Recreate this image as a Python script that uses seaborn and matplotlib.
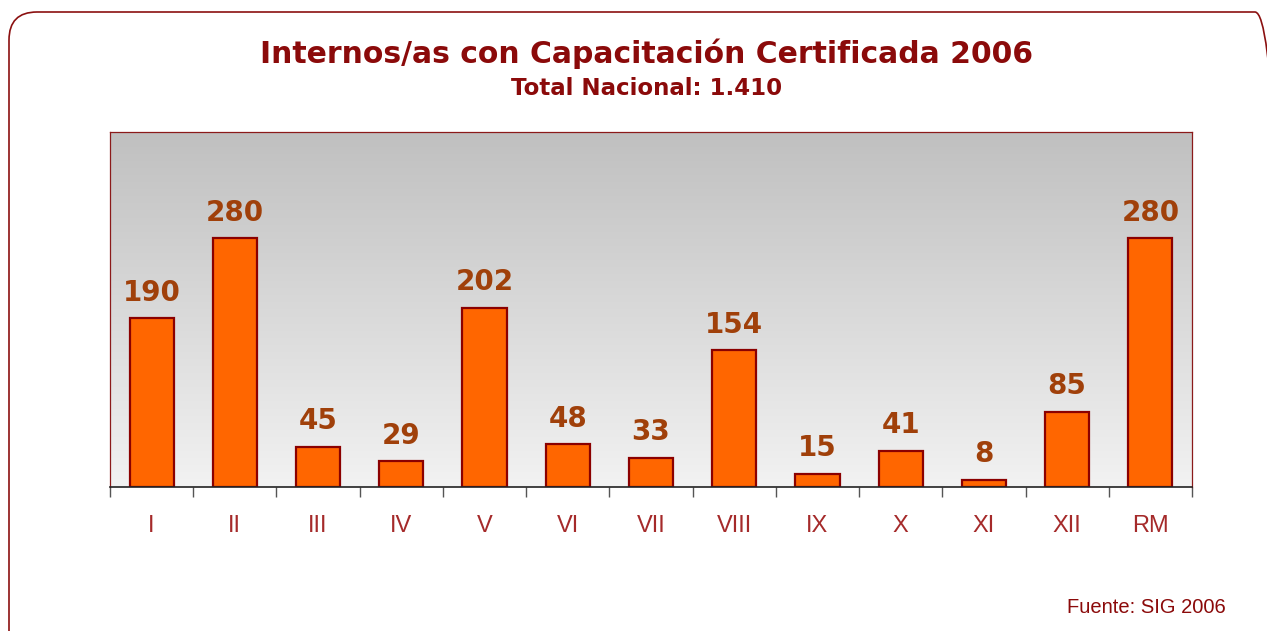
import numpy as np
import pandas as pd
import matplotlib
matplotlib.use("Agg")
import matplotlib.pyplot as plt
from matplotlib.patches import FancyBboxPatch
from matplotlib.transforms import IdentityTransform
from matplotlib.colors import LinearSegmentedColormap
import seaborn as sns

# data
regiones = ["I", "II", "III", "IV", "V", "VI", "VII", "VIII", "IX", "X", "XI", "XII", "RM"]
internos = [190, 280, 45, 29, 202, 48, 33, 154, 15, 41, 8, 85, 280]

df = pd.DataFrame({"region": regiones, "internos": internos})

sns.set_style("white")
plt.rcParams["font.family"] = ["DejaVu Sans"]

W, H = 1267, 631
fig = plt.figure(figsize=(W / 100, H / 100), dpi=100)
ax = fig.add_axes([110 / W, 1 - 487 / H, (1192 - 110) / W, (487 - 132) / H])

# rounded outer frame, drawn in pixel coords
frame = FancyBboxPatch((9, -60), 1274, H - 12 + 60,
                       boxstyle="round,pad=0,rounding_size=28",
                       transform=IdentityTransform(), facecolor="none",
                       edgecolor="#8B1010", linewidth=1.2, zorder=0)
fig.patches.append(frame)

# gradient background (grey on top -> almost white at bottom)
grad = np.linspace(0, 1, 256).reshape(-1, 1)
cmap = LinearSegmentedColormap.from_list("bg", ["#C0C0C0", "#F2F2F2"])
ax.imshow(grad, aspect="auto", cmap=cmap, extent=[-0.5, 12.5, 0, 400],
          origin="upper", zorder=0, interpolation="bicubic")

sns.barplot(data=df, x="region", y="internos", ax=ax, color="#FF6600",
            width=0.53, edgecolor="#8B0000", linewidth=1.6, saturation=1,
            zorder=2)

for i, v in enumerate(internos):
    ax.text(i, v + 20, str(v), ha="center", va="baseline", fontsize=20,
            fontweight="bold", color="#A0400A", zorder=3)

ax.set_xlim(-0.5, 12.5)
ax.set_ylim(0, 400)
ax.set_yticks([])
ax.set_xlabel("")
ax.set_ylabel("")
ax.set_xticks(range(len(regiones)))
ax.set_xticklabels(regiones, color="#A52A2A", fontsize=17,
                   family=["Liberation Sans"])
ax.set_xticks(np.arange(-0.5, 13, 1), minor=True)
ax.tick_params(axis="x", which="major", length=0, pad=20)
ax.tick_params(axis="x", which="minor", length=7, width=1, color="#555555",
               direction="out", bottom=True)
for s in ["left", "top", "right"]:
    ax.spines[s].set_color("#8B1A1A")
    ax.spines[s].set_linewidth(0.9)
ax.spines["bottom"].set_color("#222222")
ax.spines["bottom"].set_linewidth(1.2)

fig.text(647 / W, 1 - 63 / H, "Internos/as con Capacitación Certificada 2006",
         ha="center", va="baseline", fontsize=21.5, fontweight="bold", color="#8B0A0A")
fig.text(647 / W, 1 - 95 / H, "Total Nacional: 1.410",
         ha="center", va="baseline", fontsize=16.5, fontweight="bold", color="#8B0A0A")
fig.text(1226 / W, 1 - 613 / H, "Fuente: SIG 2006", ha="right", va="baseline",
         fontsize=14.5, color="#8B0A0A", family=["Liberation Sans"])

fig.savefig("out.png", dpi=100)
